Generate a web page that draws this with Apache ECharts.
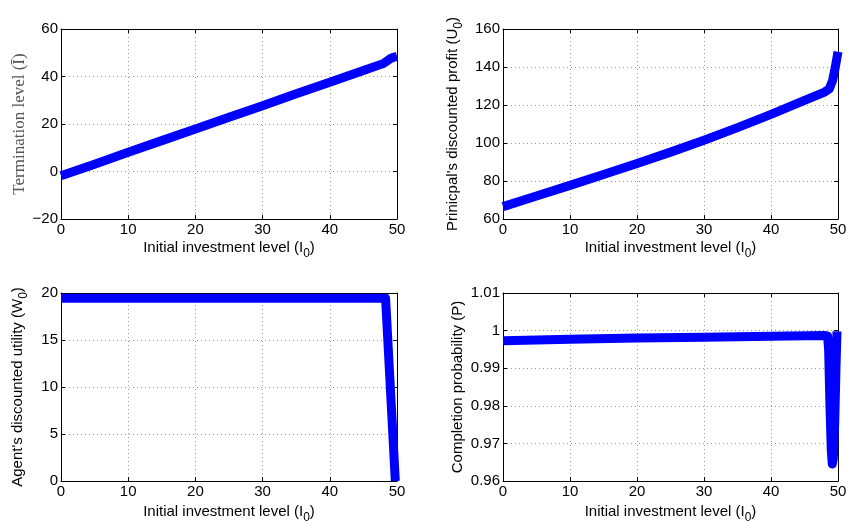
<!DOCTYPE html>
<html>
<head>
<meta charset="utf-8">
<script src="https://cdn.jsdelivr.net/npm/echarts@6/dist/echarts.min.js"></script>
<style>html,body{margin:0;padding:0;background:#fff;}#c{width:852px;height:525px;}</style>
</head>
<body>
<div id="c"></div>
<script>
// ---- data ----
const xTerm = [0, 5, 10, 15, 20, 25, 30, 35, 40, 45, 47.5, 48, 48.5, 49, 49.5, 50];
const yTerm = [-1.8, 3.1, 8.1, 13.0, 17.9, 22.8, 27.7, 32.7, 37.6, 42.5, 45.0, 45.5, 46.5, 47.5, 48.1, 48.5];

const xProfit = [0, 5, 10, 15, 20, 25, 30, 35, 40, 45, 48, 48.7, 49.2, 49.6, 50];
const yProfit = [66.5, 72.1, 77.7, 83.4, 89.2, 95.2, 101.5, 108.1, 115.1, 122.4, 126.8, 128.5, 133.0, 140.0, 148.0];

const xUtil = [0, 10, 20, 30, 40, 48.3, 49.75];
const yUtil = [19.45, 19.45, 19.45, 19.45, 19.45, 19.45, 0];

const xProb = [0, 10, 20, 30, 40, 48, 48.45, 48.6, 48.8, 49.0, 49.15, 49.3, 49.5, 49.7, 49.85];
const yProb = [0.9973, 0.9977, 0.9980, 0.9982, 0.9985, 0.9987, 0.9985, 0.995, 0.980, 0.968, 0.9645, 0.966, 0.975, 0.990, 0.9998];

const xTicks = {min: 0, max: 50, interval: 10};
const yTickTerm = {min: -20, max: 60, interval: 20};
const yTickProfit = {min: 60, max: 160, interval: 20};
const yTickUtil = {min: 0, max: 20, interval: 5};
const yTickProb = {min: 0.96, max: 1.01, interval: 0.01};

const xTitle = '{t|Initial investment level (I}{s|0}{t|)}';
const yTitles = ['Termination level (Ī)', "Prinicpal's discounted profit ({t|U}{s|0}{t|)}", "Agent's discounted utility ({t|W}{s|0}{t|)}", 'Completion probability (P)'];

// ---- chart ----
const FONT = '"Liberation Sans", Arial, Helvetica, sans-serif';
const FS = 15;
const grids = [
  {left: 61, top: 29, width: 336, height: 190},
  {left: 503, top: 29, width: 335, height: 190},
  {left: 61, top: 293, width: 336, height: 190},
  {left: 503, top: 293, width: 335, height: 190}
];
const yTicks = [yTickTerm, yTickProfit, yTickUtil, yTickProb];
const xNameGaps = [16, 16, 18, 18];
const yNameGaps = [33, 38, 31, 38];
const rich = {
  t: {fontSize: FS, fontFamily: FONT, color: '#000'},
  s: {fontSize: 12, fontFamily: FONT, color: '#000', padding: [13, 0, 0, 0]}
};
const gridLine = {show: true, lineStyle: {color: '#999', type: [1, 3], width: 1}};
const fmtY = [
  v => String(v).replace('-', '\u2212'),
  v => String(v),
  v => String(v),
  v => String(+v.toFixed(2))
];

const xAxis = [], yAxis = [], series = [];
const xs = [xTerm, xProfit, xUtil, xProb];
const ys = [yTerm, yProfit, yUtil, yProb];
for (let i = 0; i < 4; i++) {
  xAxis.push({
    type: 'value', gridIndex: i, min: xTicks.min, max: xTicks.max, interval: xTicks.interval,
    name: xTitle, nameLocation: 'middle', nameGap: xNameGaps[i],
    nameTextStyle: {fontSize: FS, fontFamily: FONT, color: '#000', rich: rich},
    axisLine: {show: true, onZero: false, lineStyle: {color: '#000', width: 1}},
    axisTick: {show: true, inside: true, length: 4, lineStyle: {color: '#000'}},
    axisLabel: {fontSize: FS, fontFamily: FONT, color: '#000', margin: 3},
    splitLine: gridLine
  });
  xAxis.push({
    type: 'value', gridIndex: i, position: 'top', min: xTicks.min, max: xTicks.max, interval: xTicks.interval,
    axisLine: {show: true, onZero: false, lineStyle: {color: '#000', width: 1}},
    axisTick: {show: true, inside: true, length: 4, lineStyle: {color: '#000'}},
    axisLabel: {show: false}, splitLine: {show: false}
  });
  const yt = yTicks[i];
  const serif = i === 0;
  yAxis.push({
    type: 'value', gridIndex: i, min: yt.min, max: yt.max, interval: yt.interval,
    name: yTitles[i], nameLocation: 'middle', nameGap: yNameGaps[i],
    nameTextStyle: serif
      ? {fontSize: 17, fontFamily: '"Liberation Serif", "DejaVu Serif", serif', color: '#555'}
      : {fontSize: FS, fontFamily: FONT, color: '#000', rich: rich},
    axisLine: {show: true, onZero: false, lineStyle: {color: '#000', width: 1}},
    axisTick: {show: true, inside: true, length: 4, lineStyle: {color: '#000'}},
    axisLabel: {fontSize: FS, fontFamily: FONT, color: '#000', margin: 3, formatter: fmtY[i]},
    splitLine: gridLine
  });
  yAxis.push({
    type: 'value', gridIndex: i, position: 'right', min: yt.min, max: yt.max, interval: yt.interval,
    axisLine: {show: true, onZero: false, lineStyle: {color: '#000', width: 1}},
    axisTick: {show: true, inside: true, length: 4, lineStyle: {color: '#000'}},
    axisLabel: {show: false}, splitLine: {show: false}
  });
  series.push({
    type: 'line', xAxisIndex: 2 * i, yAxisIndex: 2 * i,
    data: xs[i].map((x, k) => [x, ys[i][k]]),
    showSymbol: false, symbol: 'none', smooth: false, clip: true,
    lineStyle: {color: '#0000ff', width: 9, join: 'round', cap: 'butt'},
    animation: false
  });
}

const chart = echarts.init(document.getElementById('c'), null, {renderer: 'canvas'});
chart.setOption({
  animation: false,
  backgroundColor: '#fff',
  grid: grids.map(g => Object.assign({containLabel: false}, g)),
  xAxis: xAxis, yAxis: yAxis, series: series
});
</script>
</body>
</html>
